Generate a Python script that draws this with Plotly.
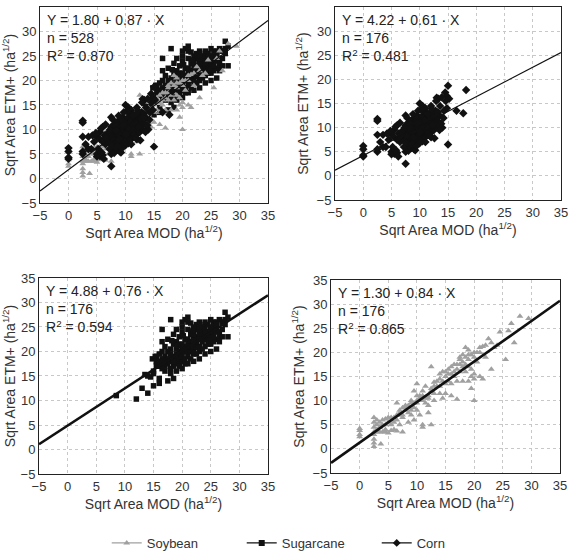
import plotly.graph_objects as go

# ---------------- data ----------------
corn_pts = [(0,4.0),(0,5.5),(0,6.2),(0,4.3),(2.5,11.8),(2.5,11.4),(2.5,5.0),(2.5,5.5),(2.5,8.5),(3.5,8.5),(4,6),(4.5,7.5),(5,4.5),(5,5),(5.5,4.6),(5.2,6),(5.8,5.3),(6,4.8),(6.2,4),(7.5,2.5),(7.5,5),(7.8,5.5),(8,5.2),(8.5,5.8),(9,5.5),(9.2,5.3),(15,6.5),(15,18.7),(18.2,17.8),(17.7,13),(16.5,13.5),(14,10),(14.5,17.3),(13,16.2),(13.3,16),(14.8,16.5),(15.2,16),(14.6,15.5),(14.8,14),(13.5,12.5),(12.5,12.8),(12,14.5),(10,15),(10.5,14.5),(11,14),(9.5,12.5),(7.5,12.5),(7.8,12),(8,11),(6.5,11),(6,10.5),(5.5,9.5),(5,8.5),(5.5,8),(6,7.5),(6.5,7),(7,7.5),(7,8.5),(7.5,9),(8,9.5),(8.5,10),(9,10.5),(9.5,10),(10,10.5),(10.5,11),(11,10.5),(11.5,11),(12,11.5),(12.5,11),(13,11.5),(13.5,11),(12,10),(11.5,9.5),(11,9),(10.5,8.5),(10,8),(9.5,8.5),(9,9),(8.5,8.5),(8,8),(7.5,7.5),(10.2,11.8),(9.6,11.2),(10.8,12.3),(11.8,10.2),(12.4,11.6),(9.2,10.2),(10.6,9.2),(8,7),(8.5,7.2),(9,7.5),(9.5,7),(10,7.5),(10.5,7.2),(11,8),(11.5,8.5),(12,9),(12.5,9.5),(13,10),(13.5,9.5),(12,8),(11,7),(10,6.8),(9,6.5),(8.2,6.3),(7.2,6),(11.3,9.2),(12.7,10.6),(9.9,10.4),(7.5,10.5),(8,10),(8.5,11.5),(9,11),(9.5,11.5),(10,12),(10.5,12.5),(11,12),(11.5,12.5),(12,12),(12.5,12.3),(10,11),(10.2,9.5),(9.8,9),(10.8,9.8),(11.2,10.2),(9.3,9.6),(8.7,9.2),(10.4,10.3),(9.6,10.8),(11.6,11.4),(8.3,10.7),(7.7,8.3),(6.8,9.2),(6.3,8.8),(7.3,10),(10.7,13.2),(11.3,13),(9.2,12.2),(8.8,12.8),(12.8,13.5),(13.2,13.2),(14.2,12),(12.3,10.5),(13.8,10.8),(10.3,13.8),(9.7,13.5),(3,7),(3.5,6),(4.2,8.8),(4.8,9.3),(5.7,10.2),(6.2,7.8),(6.6,8.3),(7.6,6.8),(8.9,8),(11.8,8.3),(12.6,7.8),(13.1,12.4),(11.9,13.2),(8.4,9.8),(10.1,9.1),(8.6,6.6),(9.4,6.2),(10.9,11.5),(11.4,12.8),(12.2,13.8),(13.6,14.5),(14.3,13.5),(13.9,16.3),(12.9,15.5)]

cane_pts = [(8.5,11),(12,10.3),(13,12.5),(14,11.5),(15,13),(16.5,24.5),(16.5,22),(18,26.5),(21,27),(20.5,26.5),(27.5,28),(17.5,14),(18.5,14.5),(16,13.5),(13.5,15.3),(15,16),(14.8,18.5),(15.3,19),(17,17),(16,14.5),(14.5,14.8),(22,20.5),(26,20.5),(25.5,22),(28,23),(28,27),(27,26),(26.5,26.5),(25,26.5),(24,25.5),(23,26),(22.5,25.5),(21.5,25.8),(22,24),(20,24),(19.5,23),(19,22),(18.5,21.5),(18,20.5),(17.5,20),(17,19),(16.5,18.5),(16,18),(15.5,17),(18,18.5),(18.5,19),(19,19.5),(19.5,20),(20,20.5),(20.5,21),(21,21.5),(21.5,22),(22,22.5),(22.5,23),(23,23.5),(23.5,24),(24,24.5),(24.5,24),(25,24.5),(25.5,25),(26,25),(26.5,24),(27,24.5),(27.5,25.5),(20,18),(20.5,17.5),(21,19),(21.5,20),(22,21),(22.5,21.5),(23,21),(23.5,22),(24,22.5),(24.5,23),(25,23),(19,17.5),(19.5,18),(18.5,17),(18,16.5),(17.5,17.5),(20,19),(21,20),(22,19.5),(23,20),(24,21),(25,21.5),(26,22.5),(26.5,23),(27,23),(19.5,21.5),(20.5,22.5),(21.5,23.5),(22.5,24.5),(23.5,25),(24.5,25.5),(25.5,26),(20,25),(21,24.5),(19,24.5),(18.5,23.5),(17.5,22.5),(17,21),(16.5,20),(16,19.5),(15.5,19),(18,19.5),(19,20.5),(20,21.5),(21,22.5),(22,23.5),(23,24.5),(19.5,19),(20.5,20),(21.5,21),(22.5,22),(23.5,23),(24.5,24),(25.5,24),(26,24),(19,16),(20,16.5),(21,17.5),(22,18),(23,18.5),(24,19.5),(25,20),(17,16),(18,15.5),(16.5,16.5),(15,15.5),(14,15),(16,17),(17,18),(18,18),(19,18.5),(20,20),(21,21),(22,22),(23,22.5),(24,23.5),(25,24),(26,26),(27,26),(27.5,26.5),(24,26),(23,25),(22,25),(21,26),(20,26),(26,25.5),(25,25),(24,24),(25.5,23),(26.5,22),(24.5,21.5),(23.5,20.5),(22.5,19.5),(21.5,18.5),(20.5,18.5),(19.5,17),(18.5,18),(17.5,18.5),(16.5,17.5),(15.5,18),(20.2,23.2),(21.8,24.2),(19.2,21.2),(18.2,22.2),(22.8,20.8),(24.8,22.2)]

soy_pts = [(0,4.2),(0,3.8),(0,3),(0,2.5),(2.5,0.5),(2.5,1.2),(3.7,1),(2.5,6.5),(2.5,5.5),(2.5,4.5),(2.5,3.5),(2.5,3),(3,6),(3.5,5.5),(4,6),(4.5,6.2),(5,6.5),(5.5,6),(6,6.5),(6.5,7),(7,7.5),(4,3.5),(4.5,3.5),(5,3.3),(5.5,3.8),(6.5,3.7),(7.5,3.5),(6.5,9.5),(7,8),(7.5,7),(8,8.5),(8.5,9),(9,8),(9.5,8.5),(10,8),(9.5,12),(10,13.5),(10.5,11),(11,10),(11,5),(11,4.5),(12.5,5),(12,7.5),(11.5,9.5),(12,10.5),(12.5,12.5),(13,13),(12.5,17),(13.5,13),(14,14.5),(14,11.5),(14.5,10.5),(15,16),(15,15),(15.5,16.5),(16,17),(16.5,15),(17,10.3),(16,11),(17,16.5),(17.5,17.5),(18,18),(18.5,19),(18.5,21),(19,20.5),(19.5,19.5),(19,17),(19.5,12.5),(19.5,15),(20,15.5),(20,10),(20,20),(21,21),(21.5,21.2),(22,21.5),(22.5,22.8),(21.5,14.5),(23,16.5),(23,22),(24.5,24.2),(25.5,18.5),(26,24.5),(26.5,26),(27,22),(28,27.5),(29.5,27),(9,10),(9.5,9.5),(10,9.5),(10.5,10.5),(8,8),(7.5,8.5),(7.5,6.5),(6,5.5),(5.5,5),(5,5.5),(4.5,5),(4,5),(3.5,4.5),(3,4),(2.5,2),(3,3.5),(6,4),(7,5),(8.5,7.5),(9,7),(10,11),(11,12),(11.5,10.5),(12,11),(13,11.5),(13.5,14),(14.5,14),(15,13.5),(15.5,14),(16,15.5),(16.5,16),(17,17.5),(17.5,18.5),(18,19.5),(18.5,17.5),(19,18.5),(20,19),(20.5,20),(21,20),(15,11.5),(16,13.5),(14,13),(13,10),(12,9),(10.5,7),(9.5,6),(8.5,5.5),(14.5,16),(15.5,15.5),(16.5,17.5),(17.5,16),(18,14),(19,14),(20,14.5),(19.5,16.5),(18.5,16),(17,14),(11.5,13),(12.5,12),(14,15.5),(13,13.8),(10,10),(11,11),(9,9.5),(8,9),(7,7),(6.5,6),(5.5,6.5),(4.5,4),(3.5,3.5),(3,5),(18,17),(17.5,19),(19,19.5),(20.5,18),(21,15),(22,19),(23.5,21),(24,21.5)]

corn_x = [p[0] for p in corn_pts]; corn_y = [p[1] for p in corn_pts]
cane_x = [p[0] for p in cane_pts]; cane_y = [p[1] for p in cane_pts]
soy_x = [p[0] for p in soy_pts]; soy_y = [p[1] for p in soy_pts]

# regression coefficients (intercept, slope), n, R2 per panel
fits = [(1.80, 0.87, 528, 0.870), (4.22, 0.61, 176, 0.481),
        (4.88, 0.76, 176, 0.594), (1.30, 0.84, 176, 0.865)]
ticks = [-5, 0, 5, 10, 15, 20, 25, 30, 35]
legend_names = ["Soybean", "Sugarcane", "Corn"]

FONT = "Liberation Sans, Arial, sans-serif"
SOY_C = "#a0a0a0"
BLK = "#111111"

# plot-area domains (paper fractions)
domains = [
    ((0.0692, 0.4637), (0.6316, 0.9873)),
    ((0.5796, 0.9706), (0.6370, 0.9873)),
    ((0.0675, 0.4637), (0.1397, 0.4955)),
    ((0.5727, 0.9689), (0.1416, 0.4918)),
]
line_w = [1.2, 1.2, 2.6, 2.6]

fig = go.Figure()

def mk(sym, color, size):
    return dict(symbol=sym, color=color, size=size, line=dict(width=0))

corn_m = mk("diamond", BLK, 6.5)
cane_m = mk("square", BLK, 5.5)
soy_m = mk("triangle-up", SOY_C, 6)

panel_series = [
    [(cane_x, cane_y, cane_m), (soy_x, soy_y, soy_m), (corn_x, corn_y, corn_m)],
    [(corn_x, corn_y, corn_m)],
    [(cane_x, cane_y, cane_m)],
    [(soy_x, soy_y, soy_m)],
]

for i in range(4):
    ax = "" if i == 0 else str(i + 1)
    xa, ya = "x" + ax, "y" + ax
    for (sx, sy, m) in panel_series[i]:
        fig.add_trace(go.Scatter(x=sx, y=sy, mode="markers", marker=m,
                                 xaxis=xa, yaxis=ya, showlegend=False))
    a, b, n, r2 = fits[i]
    lx = [ticks[0], ticks[-1]]
    fig.add_trace(go.Scatter(x=lx, y=[a + b * v for v in lx], mode="lines",
                             line=dict(color=BLK, width=line_w[i]),
                             xaxis=xa, yaxis=ya, showlegend=False))
    (dx, dy) = domains[i]
    common = dict(range=[-5, 35], tickvals=ticks, showgrid=True,
                  gridcolor="#c8c8c8", griddash="dot", gridwidth=1,
                  showline=True, linecolor="#222", linewidth=1, mirror=True,
                  zeroline=False, ticks="", tickfont=dict(size=13, color="#333", family=FONT))
    fig.update_layout(**{
        "xaxis" + ax: dict(domain=list(dx), anchor=ya, **common,
                           title=dict(text="Sqrt Area MOD (ha<sup>1/2</sup>)",
                                      font=dict(size=14, color="#333", family=FONT), standoff=6)),
        "yaxis" + ax: dict(domain=list(dy), anchor=xa, **common,
                           title=dict(text="Sqrt Area ETM+ (ha<sup>1/2</sup>)",
                                      font=dict(size=14, color="#333", family=FONT), standoff=4)),
    })
    fig.add_annotation(xref=xa + " domain", yref=ya + " domain", x=0.02, y=0.985,
                       xanchor="left", yanchor="top", align="left", showarrow=False,
                       text=f"Y = {a:.2f} + {b:.2f} · X<br>n = {n}<br>R<sup>2</sup> = {r2:.3f}",
                       font=dict(size=14, color="#222", family=FONT),
                       bgcolor="rgba(255,255,255,0)")

# legend-only traces
leg_markers = [soy_m, cane_m, corn_m]
leg_colors = [SOY_C, BLK, BLK]
for name, m, c in zip(legend_names, leg_markers, leg_colors):
    fig.add_trace(go.Scatter(x=[None], y=[None], mode="lines+markers", name=name,
                             marker=dict(m, size=6), line=dict(color=c, width=1.2),
                             xaxis="x", yaxis="y"))

fig.update_layout(
    width=578, height=551, margin=dict(l=0, r=0, t=0, b=0, autoexpand=False),
    paper_bgcolor="white", plot_bgcolor="white",
    font=dict(family=FONT, color="#333"),
    showlegend=True,
    legend=dict(orientation="h", x=0.535, xanchor="center", y=0.0145, yanchor="middle",
                yref="container", xref="container",
                font=dict(size=13, color="#333", family=FONT), itemwidth=30,
                entrywidth=90, entrywidthmode="pixels", tracegroupgap=0),
)

fig.write_html("out.html")
